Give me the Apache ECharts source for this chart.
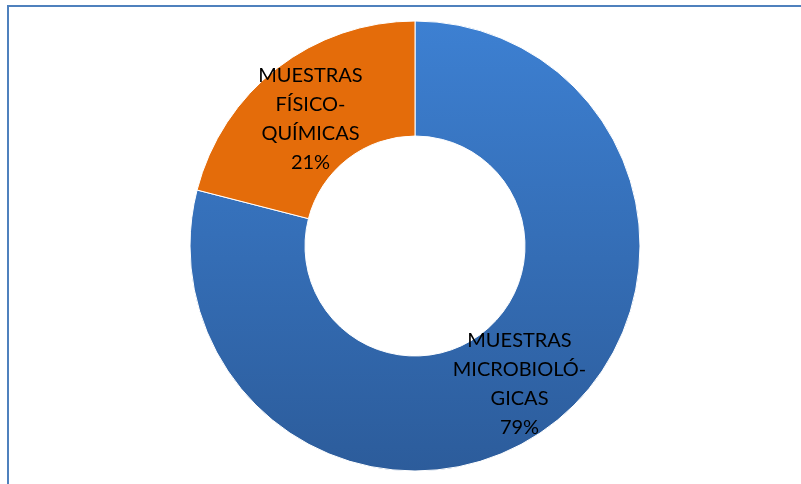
<!DOCTYPE html>
<html>
<head>
<meta charset="utf-8">
<script src="https://cdn.jsdelivr.net/npm/echarts@6/dist/echarts.min.js"></script>
<style>
  html, body { margin: 0; padding: 0; background: #fff; }
  #frame {
    position: absolute; left: 7px; top: 5px; width: 800px; height: 485px;
    border-top: 2px solid #4f81bd; border-left: 2px solid #4f81bd;
  }
  #chart { position: absolute; left: 0; top: 0; width: 801px; height: 484px; }
</style>
</head>
<body>
<div id="frame"></div>
<div id="chart"></div>
<script>
// categories and values
const categories = ["MUESTRAS MICROBIOLÓGICAS", "MUESTRAS FÍSICO-QUÍMICAS"];
const labelLines = [
  ["MUESTRAS", "MICROBIOLÓ-", "GICAS"],
  ["MUESTRAS", "FÍSICO-", "QUÍMICAS"]
];
const percents = [79, 21];

const colors = [
  new echarts.graphic.LinearGradient(0, 0, 0, 1, [
    { offset: 0, color: "#3d80d2" },
    { offset: 1, color: "#2c5c9b" }
  ]),
  "#e46c0a"
];
// small nudges so the labels sit where the reference has them
const labelShift = [3, 8];

const chart = echarts.init(document.getElementById("chart"), null, { renderer: "canvas" });
chart.setOption({
  animation: false,
  series: [
    {
      type: "pie",
      center: [415, 246],
      radius: [110, 225],
      startAngle: 90,
      clockwise: true,
      avoidLabelOverlap: false,
      itemStyle: { borderColor: "#fff", borderWidth: 1 },
      label: {
        show: true,
        position: "inside",
        color: "#000",
        fontFamily: "Lato, 'Liberation Sans', sans-serif",
        fontSize: 20,
        lineHeight: 29,
        align: "center",
        formatter: (p) => labelLines[p.dataIndex].join("\n") + "\n" + p.value + "%"
      },
      labelLayout: (p) => ({ dy: labelShift[p.dataIndex] }),
      labelLine: { show: false },
      emphasis: { disabled: true },
      data: categories.map((name, i) => ({
        name: name,
        value: percents[i],
        itemStyle: { color: colors[i] }
      }))
    }
  ]
});
window.addEventListener("resize", () => {
  chart && chart.resize();
});
</script>
</body>
</html>
